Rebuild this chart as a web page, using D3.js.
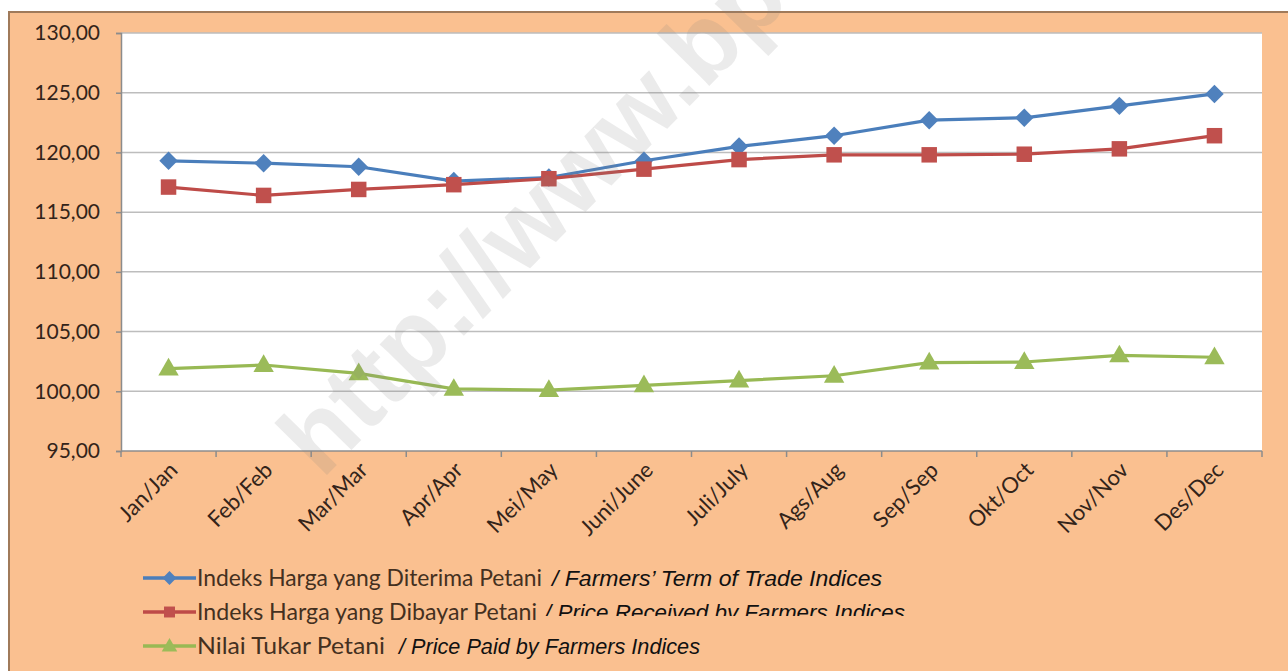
<!DOCTYPE html>
<html><head><meta charset="utf-8">
<script src="https://cdn.jsdelivr.net/npm/d3@7"></script>
<style>
html,body{margin:0;padding:0;background:#fff;}
svg{display:block;}
</style></head>
<body>
<svg id="chart" width="1288" height="671"></svg>
<script>
const months = ["Jan/Jan","Feb/Feb","Mar/Mar","Apr/Apr","Mei/May","Juni/June","Juli/July","Ags/Aug","Sep/Sep","Okt/Oct","Nov/Nov","Des/Dec"];
const received = [119.3,119.1,118.8,117.6,117.9,119.3,120.5,121.4,122.7,122.9,123.9,124.9];
const paid     = [117.1,116.4,116.9,117.3,117.8,118.6,119.4,119.8,119.8,119.85,120.3,121.4];
const ntp      = [101.9,102.2,101.5,100.2,100.1,100.5,100.9,101.3,102.4,102.45,103.0,102.85];
const yTicks   = [95,100,105,110,115,120,125,130];
const seriesNames = ["Indeks Harga yang Diterima Petani","Indeks Harga yang Dibayar Petani","Nilai Tukar Petani"];
const seriesEnglish = ["/ Farmers’ Term of Trade Indices","/ Price Received by Farmers Indices","/ Price Paid by Farmers Indices"];

const series = [
  {name: seriesNames[0], en: seriesEnglish[0], values: received, line:"#4A7EBB", fill:"#4F81BD", sym:"diamond"},
  {name: seriesNames[1], en: seriesEnglish[1], values: paid, line:"#BE4B48", fill:"#C0504D", sym:"square"},
  {name: seriesNames[2], en: seriesEnglish[2], values: ntp, line:"#98B954", fill:"#9BBB59", sym:"triangle"}
];

const svg = d3.select("#chart");
const W = 1288, H = 671;
svg.append("rect").attr("x",9).attr("y",12).attr("width",W+20).attr("height",H+20)
  .attr("fill","#FAC090").attr("stroke","#A07A5A").attr("stroke-width",2);

const L = 121, R = 1262, T = 33, B = 451;
svg.append("rect").attr("x",L).attr("y",T).attr("width",R-L).attr("height",B-T).attr("fill","#fff");

const x = d3.scaleBand().domain(months).range([L,R]).padding(0);
const cx = m => x(m) + x.bandwidth()/2;
const y = d3.scaleLinear().domain([95,130]).range([B,T]);

svg.append("g").selectAll("line").data(yTicks.filter(t=>t>95)).join("line")
  .attr("x1",L).attr("x2",R).attr("y1",d=>y(d)).attr("y2",d=>y(d))
  .attr("stroke","#BDBDBD").attr("stroke-width",1.5);

const fmt = d => d3.format(".2f")(d).replace(".",",");
const yAxis = svg.append("g").attr("transform",`translate(${L},0)`)
  .call(d3.axisLeft(y).tickValues(yTicks).tickFormat(fmt).tickSize(5).tickPadding(16));
yAxis.select(".domain").attr("stroke","#8C8C8C").attr("stroke-width",1.5);
yAxis.selectAll(".tick line").attr("stroke","#8C8C8C").attr("stroke-width",1.5);
yAxis.selectAll("text").attr("font-family","Lato, sans-serif").attr("font-size",21)
  .attr("fill","#33241a");

const xAxis = svg.append("g").attr("transform",`translate(0,${B})`);
xAxis.append("line").attr("x1",L).attr("x2",R).attr("y1",0).attr("y2",0)
  .attr("stroke","#8C8C8C").attr("stroke-width",1.5);
const bounds = months.map(m=>x(m)).concat([x(months[months.length-1])+x.bandwidth()]);
xAxis.selectAll("line.tk").data(bounds).join("line").attr("class","tk")
  .attr("x1",d=>d).attr("x2",d=>d).attr("y1",0).attr("y2",6)
  .attr("stroke","#8C8C8C").attr("stroke-width",1.5);
xAxis.selectAll("text").data(months).join("text")
  .attr("transform",d=>`translate(${cx(d)+5},${15}) rotate(-45)`)
  .attr("text-anchor","end").attr("dy","0.35em")
  .attr("font-family","Lato, sans-serif").attr("font-size",22).attr("fill","#33241a")
  .text(d=>d);

function symPath(type, big){
  if(type==="diamond") return d3.symbol(d3.symbolSquare, big?170:95)();
  if(type==="square") return d3.symbol(d3.symbolSquare, big?240:120)();
  return d3.symbol(d3.symbolTriangle, big?180:105)();
}
function symTransform(type, px, py){
  if(type==="diamond") return `translate(${px},${py}) rotate(45)`;
  if(type==="triangle") return `translate(${px},${py+1})`;
  return `translate(${px},${py})`;
}

const line = d3.line().x((d,i)=>cx(months[i])).y(d=>y(d));
series.forEach(s=>{
  const g = svg.append("g");
  g.append("path").datum(s.values).attr("d",line).attr("fill","none")
    .attr("stroke",s.line).attr("stroke-width",3.2).attr("stroke-linejoin","round");
  g.selectAll("path.m").data(s.values).join("path").attr("class","m")
    .attr("d",symPath(s.sym,true))
    .attr("transform",(d,i)=>symTransform(s.sym,cx(months[i]),y(d)))
    .attr("fill",s.fill);
});

// legend
const legRows = [578, 612, 646];
const italX = [552, 545, 399];
const italLen = [330, 360, 301];
const nameLen = [345, 340, 188];
const leg = svg.append("g");
series.forEach((s,i)=>{
  const yy = legRows[i];
  leg.append("line").attr("x1",143).attr("x2",196).attr("y1",yy).attr("y2",yy)
    .attr("stroke",s.line).attr("stroke-width",3.4);
  leg.append("path").attr("d",symPath(s.sym,false)).attr("transform",symTransform(s.sym,169.5,yy)).attr("fill",s.fill);
  leg.append("text").attr("x",197).attr("y",yy).attr("dy","0.36em")
    .attr("font-family","Lato, sans-serif").attr("font-size",22.5).attr("fill","#44301f")
    .attr("textLength",nameLen[i]).attr("lengthAdjust","spacingAndGlyphs")
    .text(s.name);
});
const defs = svg.append("defs");
defs.append("clipPath").attr("id","clipRow2").append("rect")
  .attr("x",500).attr("y",590).attr("width",500).attr("height",26);
series.forEach((s,i)=>{
  const yy = legRows[i];
  const t = leg.append("text").attr("x",italX[i]).attr("y",yy).attr("dy","0.36em")
    .attr("font-family","'Liberation Sans', Arial, sans-serif").attr("font-style","italic")
    .attr("font-size",21.5).attr("fill","#111")
    .attr("textLength",italLen[i]).attr("lengthAdjust","spacingAndGlyphs")
    .text(s.en);
  if(i===1) t.attr("clip-path","url(#clipRow2)");
});

// watermark
svg.append("text").attr("transform","translate(322,480) rotate(-45.5)")
  .attr("font-family","'Liberation Sans', Arial, sans-serif").attr("font-weight","bold")
  .attr("font-size",102).attr("fill","#808080").attr("fill-opacity",0.16)
  .attr("pointer-events","none")
  .text("http://www.bp");
</script>
</body></html>
